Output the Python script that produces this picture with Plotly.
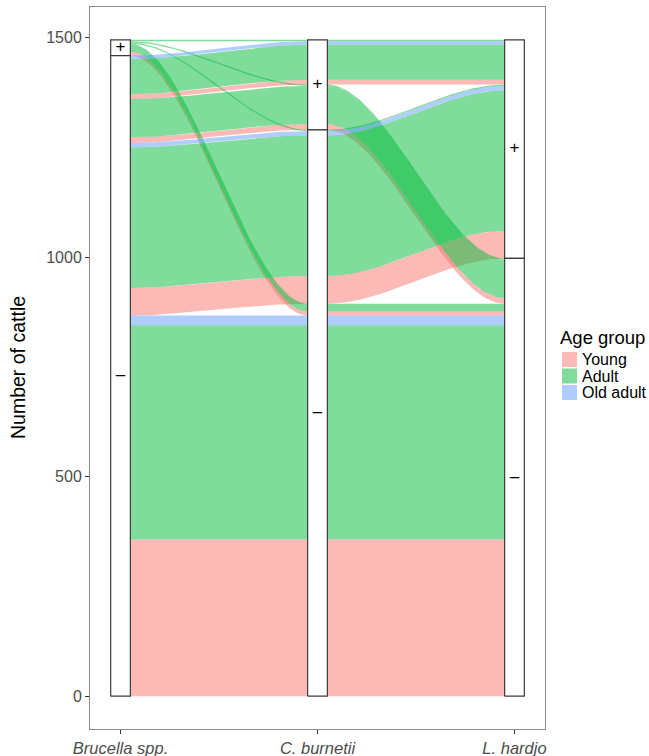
import plotly.graph_objects as go

# ---------------- data ----------------
axis_names = ["Brucella spp.", "C. burnetii", "L. hardjo"]
age_groups = ["Young", "Adult", "Old adult"]
age_colors = {"Young": "rgba(248,118,109,0.5)",
              "Adult": "rgba(0,186,56,0.5)",
              "Old adult": "rgba(97,156,255,0.5)"}
legend_key_colors = {"Young": "#FCBAB6", "Adult": "#80DC9B", "Old adult": "#B0CDFF"}

# one entry per alluvium (combination of test results and age group)
brucella = ["-", "-", "-", "+", "+", "-", "-", "-", "+", "-", "-", "+", "-", "-", "-", "+"]
burnetii = ["-", "-", "-", "-", "-", "-", "-", "-", "-", "+", "+", "+", "+", "+", "+", "+"]
hardjo   = ["-", "-", "-", "-", "-", "+", "+", "+", "+", "-", "-", "-", "+", "+", "+", "+"]
age      = ["Young", "Adult", "Old adult", "Young", "Adult", "Young", "Adult", "Old adult", "Adult",
            "Young", "Adult", "Adult", "Young", "Adult", "Old adult", "Adult"]
count    = [357, 488, 22, 9, 18, 63, 320, 10, 3, 13, 87, 3, 11, 80, 8, 3]

y_ticks = [0, 500, 1000, 1500]

# ---------------- layout helpers ----------------
status = [brucella, burnetii, hardjo]
n = len(count)
srank = {"-": 0, "+": 1}
arank = {a: i for i, a in enumerate(age_groups)}
# zigzag lode guidance: order of other axes used for sorting within strata
guidance = {0: [1, 2], 1: [2, 0], 2: [1, 0]}
W = 0.1  # stratum width

lo = [[0.0] * n for _ in range(3)]
hi = [[0.0] * n for _ in range(3)]
for ax in range(3):
    order = sorted(range(n), key=lambda k: (srank[status[ax][k]],
                                            srank[status[guidance[ax][0]][k]],
                                            srank[status[guidance[ax][1]][k]],
                                            arank[age[k]]))
    cum = 0.0
    for k in order:
        lo[ax][k] = cum
        cum += count[k]
        hi[ax][k] = cum


def smooth(y0, y1, m=60):
    ts, ys = [], []
    for i in range(m + 1):
        t = i / m
        s = 3 * t * t - 2 * t * t * t
        ts.append(t)
        ys.append(y0 + (y1 - y0) * s)
    return ts, ys


fig = go.Figure()

# flows
for a in age_groups:
    for k in range(n):
        if age[k] != a:
            continue
        for seg in range(2):
            xa = seg + 1 + W / 2
            xb = seg + 2 - W / 2
            tt, top = smooth(hi[seg][k], hi[seg + 1][k])
            _, bot = smooth(lo[seg][k], lo[seg + 1][k])
            xs = [xa + (xb - xa) * t for t in tt]
            px = xs + xs[::-1] + [xs[0]]
            py = top + bot[::-1] + [top[0]]
            fig.add_trace(go.Scatter(x=px, y=py, mode="lines", fill="toself",
                                     fillcolor=age_colors[a], line=dict(width=0),
                                     hoverinfo="skip", showlegend=False))

# strata boxes and labels
for ax in range(3):
    for lev in ["+", "-"]:
        size = sum(count[k] for k in range(n) if status[ax][k] == lev)
        base = sum(count[k] for k in range(n) if srank[status[ax][k]] < srank[lev])
        x0, x1 = ax + 1 - W / 2, ax + 1 + W / 2
        fig.add_trace(go.Scatter(x=[x0, x1, x1, x0, x0],
                                 y=[base, base, base + size, base + size, base],
                                 mode="lines", fill="toself", fillcolor="white",
                                 line=dict(color="#3a3a3a", width=1.2),
                                 hoverinfo="skip", showlegend=False))
        fig.add_trace(go.Scatter(x=[ax + 1], y=[base + size / 2], mode="text",
                                 text=["+" if lev == "+" else "–"],
                                 textfont=dict(size=17, color="black", family="Liberation Sans"),
                                 hoverinfo="skip", showlegend=False))

total = sum(count)
pad = 0.05 * total

fig.update_layout(
    width=649, height=756,
    margin=dict(l=90, r=104, t=7, b=27, autoexpand=False),
    paper_bgcolor="white", plot_bgcolor="white",
    font=dict(family="Liberation Sans", color="#4D4D4D"),
    showlegend=False,
    xaxis=dict(range=[1 - W / 2 - 0.105, 3 + W / 2 + 0.105],
               tickvals=[1, 2, 3],
               ticktext=["<i>%s</i>" % s for s in axis_names],
               tickfont=dict(size=16.5, color="#4D4D4D"),
               ticks="outside", ticklen=4, tickcolor="#333333", tickwidth=1,
               showgrid=False, zeroline=False, automargin=False,
               showline=True, linecolor="#8c8c8c", linewidth=1, mirror=True),
    yaxis=dict(range=[-pad, total + pad],
               tickvals=y_ticks, ticktext=[str(v) for v in y_ticks],
               tickfont=dict(size=16, color="#4D4D4D"),
               ticks="outside", ticklen=4, tickcolor="#333333", tickwidth=1,
               showgrid=False, zeroline=False, automargin=False,
               showline=True, linecolor="#8c8c8c", linewidth=1, mirror=True),
)

PW, PH, TOP = 455, 722, 7  # panel size and top (in figure pixels)


def px_x(p):
    return (p - 90) / PW


def px_y(p):
    return (TOP + PH - p) / PH


# y-axis title
fig.add_annotation(text="Number of cattle", xref="paper", yref="paper",
                   x=px_x(18), y=px_y(368), textangle=-90, showarrow=False,
                   font=dict(size=19.5, color="black", family="Liberation Sans"),
                   xanchor="center", yanchor="middle")

# legend (drawn manually to match ggplot spacing)
fig.add_annotation(text="Age group", xref="paper", yref="paper",
                   x=px_x(558), y=px_y(337), showarrow=False,
                   xanchor="left", yanchor="middle",
                   font=dict(size=18.5, color="black", family="Liberation Sans"))
key_tops = [352, 368.5, 385]
for a, top in zip(age_groups, key_tops):
    fig.add_shape(type="rect", xref="paper", yref="paper",
                  x0=px_x(562), x1=px_x(577), y0=px_y(top + 15), y1=px_y(top),
                  fillcolor=legend_key_colors[a], line=dict(width=0))
    fig.add_annotation(text=a, xref="paper", yref="paper",
                       x=px_x(580), y=px_y(top + 7.5), showarrow=False,
                       xanchor="left", yanchor="middle",
                       font=dict(size=16, color="black", family="Liberation Sans"))

# remove the default page margin so the figure fills the window exactly
fig.write_html("out.html",
               config={"displayModeBar": False, "staticPlot": True},
               post_script="document.body.style.margin='0';document.body.style.overflow='hidden';")
